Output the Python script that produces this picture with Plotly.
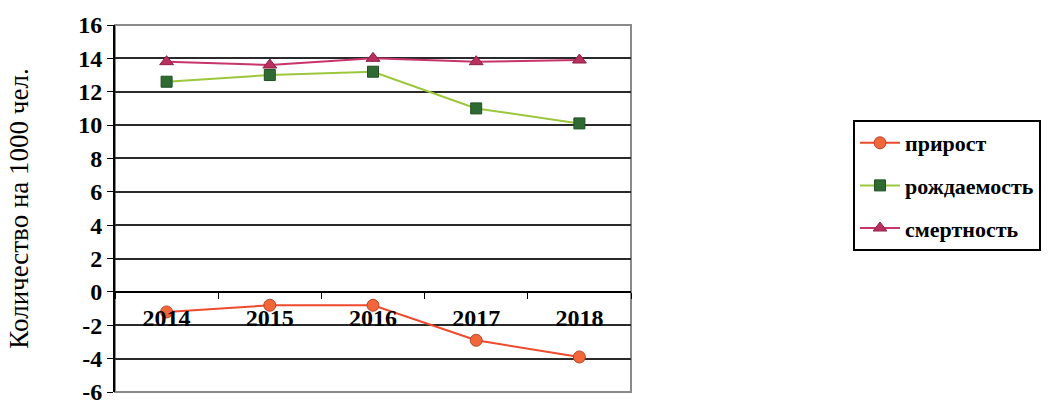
import plotly.graph_objects as go

# Demographic indicators, per 1000 people
years = ["2014", "2015", "2016", "2017", "2018"]
growth = [-1.2, -0.8, -0.8, -2.9, -3.9]          # прирост
births = [12.6, 13.0, 13.2, 11.0, 10.1]          # рождаемость
deaths = [13.8, 13.6, 14.0, 13.8, 13.9]          # смертность
y_ticks = list(range(-6, 17, 2))
y_tick_labels = [str(v) for v in y_ticks]

SERIF = "Times New Roman, Liberation Serif, DejaVu Serif, serif"
Y_MIN, Y_MAX = -6, 16

fig = go.Figure()

fig.add_trace(go.Scatter(
    x=years, y=growth, name="прирост", mode="lines+markers",
    line=dict(color="#EE4A2E", width=2),
    marker=dict(symbol="circle", size=12, color="#F2673A",
                line=dict(color="#B8442A", width=1)),
    legendgroup="a",
))
fig.add_trace(go.Scatter(
    x=years, y=births, name="рождаемость", mode="lines+markers",
    line=dict(color="#9CC63C", width=2),
    marker=dict(symbol="square", size=11, color="#2F6A32",
                line=dict(color="#1F4F22", width=1)),
    legendgroup="b",
))
fig.add_trace(go.Scatter(
    x=years, y=deaths, name="смертность", mode="lines+markers",
    line=dict(color="#C8356A", width=2),
    marker=dict(symbol="triangle-up", size=12, color="#B8305E",
                line=dict(color="#8C2246", width=1)),
    legendgroup="c",
))

# light grey frame of the plot area (right and top edges)
fig.add_shape(type="rect", xref="paper", yref="paper", x0=0, x1=1, y0=0, y1=1,
              line=dict(color="#8a8a8a", width=2), layer="below")

PLOT_TOP, PLOT_BOTTOM = 25, 392
PLOT_H = PLOT_BOTTOM - PLOT_TOP

fig.update_layout(
    width=1052, height=406,
    margin=dict(l=115, r=421, t=PLOT_TOP, b=406 - PLOT_BOTTOM, autoexpand=False),
    paper_bgcolor="white", plot_bgcolor="white",
    font=dict(family=SERIF, color="black"),
    showlegend=True,
    legend=dict(
        x=(853 - 115) / 516, xanchor="left",
        y=(PLOT_BOTTOM - 120) / PLOT_H, yanchor="top",
        bordercolor="black", borderwidth=2, bgcolor="white",
        font=dict(family=SERIF, size=22, color="black", weight="bold"),
        tracegroupgap=11,
        itemwidth=40,
    ),
    xaxis=dict(
        type="category", range=[-0.5, 4.5],
        anchor="free", position=(0 - Y_MIN) / (Y_MAX - Y_MIN),
        automargin=False,
        showline=True, linecolor="black", linewidth=2,
        showgrid=False, zeroline=False,
        ticks="outside", tickson="boundaries", ticklen=6, tickcolor="black",
        ticklabelstandoff=4,
        tickfont=dict(family=SERIF, size=24, color="black", weight="bold"),
    ),
    yaxis=dict(
        range=[Y_MIN, Y_MAX], tickvals=y_ticks, ticktext=y_tick_labels,
        ticklabeloverflow="allow", automargin=False,
        showline=True, linecolor="black", linewidth=2,
        showgrid=True, gridcolor="#2a2a2a", gridwidth=1.5,
        zeroline=False,
        ticks="outside", ticklen=6, tickcolor="black",
        tickfont=dict(family=SERIF, size=24, color="black", weight="bold"),
        title=dict(text="Количество на 1000 чел.", standoff=42,
                   font=dict(family=SERIF, size=27, color="black")),
    ),
)

fig.write_html("out.html")
